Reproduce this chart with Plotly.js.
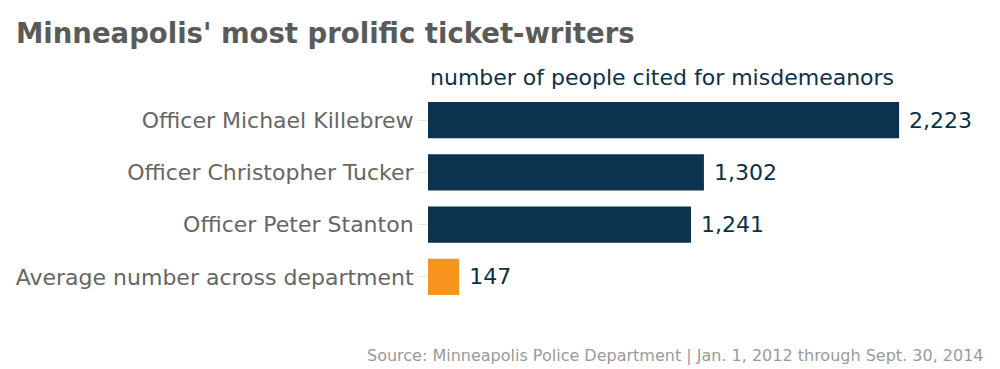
<!DOCTYPE html>
<html>
<head>
<meta charset="utf-8">
<script src="https://cdn.plot.ly/plotly-3.0.1.min.js"></script>
<style>html,body{margin:0;padding:0;background:#fff;}#chart{width:1000px;height:369px;}</style>
</head>
<body>
<div id="chart"></div>
<script>
const categories = ["Officer Michael Killebrew", "Officer Christopher Tucker", "Officer Peter Stanton", "Average number across department"];
const values = [2223, 1302, 1241, 147];
const valueLabels = ["2,223", "1,302", "1,241", "147"];
const barColors = ["#0b3350", "#0b3350", "#0b3350", "#f7941d"];

const FONT = "DejaVu Sans, Verdana, sans-serif";

const trace = {
  type: "bar",
  orientation: "h",
  y: categories,
  x: values,
  text: valueLabels.map(s => " " + s),
  textposition: "outside",
  cliponaxis: false,
  textfont: {family: FONT, size: 22, color: "#0d2f47"},
  marker: {color: barColors},
  hoverinfo: "none"
};

const layout = {
  width: 1000,
  height: 369,
  paper_bgcolor: "#fff",
  plot_bgcolor: "#fff",
  margin: {l: 428, r: 60, t: 94, b: 66},
  bargap: 0.31,
  showlegend: false,
  title: {
    text: "<b>Minneapolis' most prolific ticket-writers</b>",
    font: {family: FONT, size: 27.5, color: "#5a5a5a"},
    x: 0.016, xanchor: "left", xref: "container", y: 0.91, yanchor: "middle", yref: "container"
  },
  xaxis: {
    range: [0, 2416],
    showgrid: false, zeroline: false, showticklabels: false, showline: false, ticks: ""
  },
  yaxis: {
    autorange: "reversed",
    showgrid: false, zeroline: false, showline: false,
    ticks: "outside", ticklen: 9, tickcolor: "#e3e3e3", tickwidth: 1,
    tickfont: {family: FONT, size: 22, color: "#666666"}
  },
  annotations: [
    {
      text: "number of people cited for misdemeanors",
      xref: "paper", yref: "paper", x: 0, y: 1.08, xanchor: "left", yanchor: "middle",
      showarrow: false, xshift: 0,
      font: {family: FONT, size: 22, color: "#0d2f47"}
    },
    {
      text: "Source: Minneapolis Police Department | Jan. 1, 2012 through Sept. 30, 2014",
      xref: "paper", yref: "paper", x: 1, y: -0.25, xanchor: "right", yanchor: "middle",
      showarrow: false, xshift: 46,
      font: {family: FONT, size: 16, color: "#9a9a9a"}
    }
  ]
};

Plotly.newPlot("chart", [trace], layout, {displayModeBar: false, staticPlot: true});
</script>
</body>
</html>
